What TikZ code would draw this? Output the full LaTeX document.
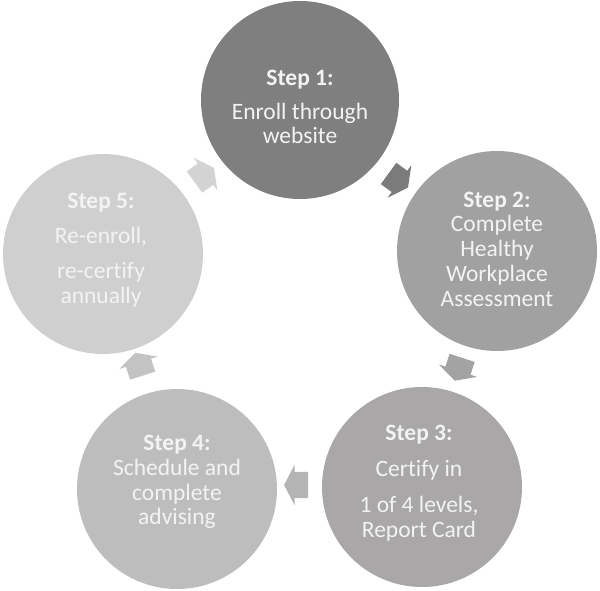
\documentclass[tikz,border=0pt]{standalone}
\usepackage{fontspec}
\setmainfont{Carlito}[Ligatures=NoCommon]
\usetikzlibrary{shapes.arrows,calc}
\definecolor{cA}{HTML}{7F7F7F}
\definecolor{cB}{HTML}{A1A1A1}
\definecolor{cC}{HTML}{A9A7A7}
\definecolor{cD}{HTML}{BDBDBD}
\definecolor{cE}{HTML}{D0CFCF}
\definecolor{aA}{HTML}{7B7B7B}
\definecolor{aB}{HTML}{A3A3A3}
\definecolor{aC}{HTML}{B4B4B4}
\definecolor{aD}{HTML}{C3C3C3}
\definecolor{aE}{HTML}{D3D3D3}
\definecolor{txt}{HTML}{F3F3F3}
\tikzset{
  stepcircle/.style={circle, minimum size=200pt, inner sep=0pt, draw=none},
  steptext/.style={align=center, text=txt, font=\fontsize{23.5}{24.8}\selectfont, inner sep=0pt},
  cyclearrow/.style={single arrow, draw=none, minimum height=24pt, inner xsep=0pt, inner ysep=13pt,
     single arrow head extend=7pt, single arrow tip angle=125}
}
\begin{document}
\begin{tikzpicture}[x=1pt,y=-1pt]
\useasboundingbox (0,0) rectangle (600,591);
\node[stepcircle, fill=cA, minimum size=198pt] (s1) at (300,100) {};
\node[stepcircle, fill=cB] (s2) at (497,251) {};
\node[stepcircle, fill=cC] (s3) at (422,487) {};
\node[stepcircle, fill=cD] (s4) at (177,489) {};
\node[stepcircle, fill=cE] (s5) at (103,254) {};

\node[steptext] (t1) at (300,107) {\textbf{Step 1:}\\[9pt]Enroll through\\website};
\node[steptext] (t2) at (497,249) {\textbf{Step 2:}\\Complete\\Healthy\\Workplace\\Assessment};
\node[steptext] (t3) at (419,483) {\textbf{Step 3:}\\[11pt]Certify in\\[11pt]1 of 4 levels,\\Report Card};
\node[steptext] (t4) at (177,482) {\textbf{Step 4:}\\Schedule and\\complete\\advising};
\node[steptext] (t5) at (101,250) {\textbf{Step 5:}\\[10pt]Re-enroll,\\[10pt]re-certify\\annually};

\node[cyclearrow, fill=aA, rotate=-36] (a12) at ($(s1)!0.5!(s2)+(-3,3)$) {};
\node[cyclearrow, fill=aB, rotate=-108] (a23) at ($(s2)!0.5!(s3)+(0,-3)$) {};
\node[cyclearrow, fill=aC, rotate=180] (a34) at ($(s3)!0.5!(s4)+(0,-3)$) {};
\node[cyclearrow, fill=aD, rotate=108] (a45) at ($(s4)!0.5!(s5)+(0,-4)$) {};
\node[cyclearrow, fill=aE, rotate=36] (a51) at ($(s5)!0.5!(s1)$) {};
\end{tikzpicture}
\end{document}
